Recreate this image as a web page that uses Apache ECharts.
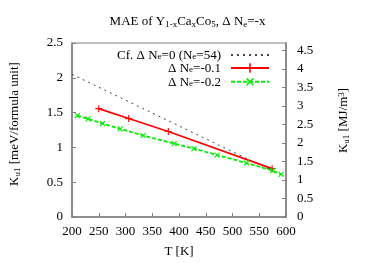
<!DOCTYPE html>
<html><head><meta charset="utf-8">
<script src="https://cdn.jsdelivr.net/npm/echarts@6/dist/echarts.min.js"></script>
<style>html,body{margin:0;padding:0;background:#fff}#c{width:375px;height:263px}</style>
</head><body><div id="c"></div>
<script>
// Data
const ref0 = [[200, 2.05], [575, 0.66]];                 // Cf. ΔNe=0 (Ne=54)
const ne01 = [[250, 1.557], [306, 1.414], [380, 1.229], [574, 0.695]]; // ΔNe=-0.1
const ne02 = [[210, 1.457], [230, 1.41], [257, 1.343], [290, 1.267], [333, 1.171],
              [391, 1.055], [428, 0.983], [471, 0.89], [526, 0.776], [575, 0.667], [591, 0.614]]; // ΔNe=-0.2
const xTicks = [200, 600, 50];
const yLeft = [0, 2.5, 0.5];
const yRight = [0, 4.698, 0.5];

const FONT = '"Liberation Serif","DejaVu Serif",serif';
const rich = {
  n: {fontFamily: FONT, fontSize: 13, fontWeight: 'normal', color: '#000', lineHeight: 14, verticalAlign: 'top'},
  s: {fontFamily: FONT, fontSize: 9, fontWeight: 'normal', color: '#000', lineHeight: 8, verticalAlign: 'bottom'},
  p: {fontFamily: FONT, fontSize: 9, fontWeight: 'normal', color: '#000', lineHeight: 8, verticalAlign: 'top'}
};
const legendRich = {
  n: {fontFamily: FONT, fontSize: 13, color: '#000', lineHeight: 12, verticalAlign: 'top'},
  s: {fontFamily: FONT, fontSize: 9, color: '#000', lineHeight: 6, verticalAlign: 'bottom'}
};
const legendText = {
  'ref0': '{n|Cf. Δ N}{s|e}{n|=0 (N}{s|e}{n|=54)}',
  'ne01': '{n|Δ N}{s|e}{n|=-0.1}',
  'ne02': '{n|Δ N}{s|e}{n|=-0.2}'
};
const plusPath = 'path://M-0.8,-5 H0.8 V-0.8 H5 V0.8 H0.8 V5 H-0.8 V0.8 H-5 V-0.8 H-0.8 Z';
const AX = '#808080';

const chart = echarts.init(document.getElementById('c'), null, {renderer: 'canvas'});
chart.setOption({
  animation: false,
  backgroundColor: '#fff',
  title: {
    text: '{n|MAE of Y}{s|1-x}{n|Ca}{s|x}{n|Co}{s|5}{n|, Δ N}{s|e}{n|=-x}',
    left: 'center', top: 10,
    textStyle: {fontWeight: 'normal', rich: rich}
  },
  legend: {
    orient: 'vertical', align: 'right', right: 105, top: 49,
    padding: 0, itemGap: 0, itemWidth: 38, itemHeight: 12,
    data: [{name: 'ref0', itemStyle: {opacity: 0}}, 'ne01', 'ne02'],
    formatter: n => legendText[n],
    textStyle: {rich: legendRich, padding: [0, 5, 0, 0]}
  },
  grid: {left: 68, right: 89, top: 43, bottom: 45, show: true, borderColor: AX, borderWidth: 1.2, containLabel: false},
  xAxis: {
    type: 'value', min: xTicks[0], max: xTicks[1], interval: xTicks[2],
    name: 'T [K]', nameLocation: 'middle', nameGap: 28,
    nameTextStyle: {fontFamily: FONT, fontSize: 13, color: '#000'},
    axisLine: {lineStyle: {color: AX, width: 1.5}},
    axisTick: {inside: true, length: 4, lineStyle: {color: AX}},
    axisLabel: {fontFamily: FONT, fontSize: 13, color: '#000', margin: 8},
    splitLine: {show: false}
  },
  yAxis: [{
    type: 'value', min: yLeft[0], max: yLeft[1], interval: yLeft[2],
    name: '{n|K}{s|u1}{n| [meV/formula unit]}', nameLocation: 'middle', nameGap: 50, nameRotate: 90,
    nameTextStyle: {rich: rich, padding: [0, 0, 0, 12]},
    axisLine: {lineStyle: {color: AX, width: 1.5}},
    axisTick: {inside: true, length: 4, lineStyle: {color: AX}},
    axisLabel: {fontFamily: FONT, fontSize: 13, color: '#000', margin: 9},
    splitLine: {show: false}
  }, {
    type: 'value', position: 'right', min: yRight[0], max: yRight[1], interval: yRight[2],
    name: '{n|K}{s|u1}{n| [MJ/m}{p|3}{n|]}', nameLocation: 'middle', nameGap: 51, nameRotate: 90,
    nameTextStyle: {rich: rich, padding: [0, 0, 0, 19]},
    axisLine: {show: true, lineStyle: {color: AX, width: 1.5}},
    axisTick: {inside: true, length: 4, lineStyle: {color: AX}},
    axisLabel: {fontFamily: FONT, fontSize: 13, color: '#000', margin: 11, showMaxLabel: false},
    splitLine: {show: false}
  }],
  series: [{
    name: 'ref0', type: 'line', data: ref0, showSymbol: false, symbol: 'none',
    lineStyle: {color: '#444', width: 1, type: [2, 4]}, itemStyle: {color: '#444'}
  }, {
    name: 'ne01', type: 'line', data: ne01, symbol: plusPath, symbolSize: 7,
    lineStyle: {color: '#ff0000', width: 1.6}, itemStyle: {color: '#ff0000'}
  }, {
    name: 'ne02', type: 'line', data: ne02, symbol: plusPath, symbolSize: 7, symbolRotate: 45,
    lineStyle: {color: '#00ee00', width: 1.8, type: [4, 2]}, itemStyle: {color: '#00ee00'}
  }]
});
</script></body></html>
